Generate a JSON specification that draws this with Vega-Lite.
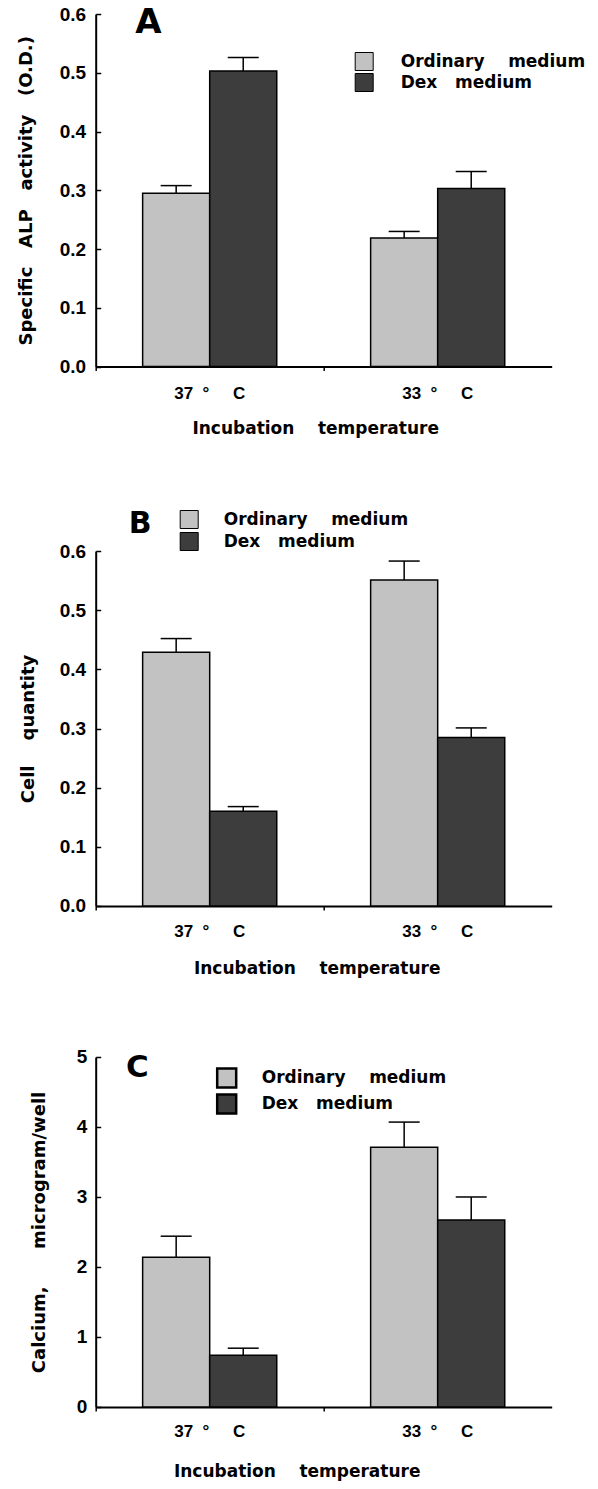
{
  "$schema": "https://vega.github.io/schema/vega-lite/v6.json",
  "background": "white",
  "padding": {"left": 17.7, "top": 5, "right": 5, "bottom": 5},
  "spacing": 71,
  "config": {
    "view": {"stroke": null},
    "axis": {"grid": false, "domainColor": "black", "tickColor": "black", "labelColor": "black", "titleColor": "black", "domainWidth": 2, "tickWidth": 1.5}
  },
  "datasets": {
    "bars": [
      {"panel": "A", "temp": "37 °C", "medium": "Ordinary medium", "value": 0.295, "err": 0.308},
      {"panel": "A", "temp": "37 °C", "medium": "Dex medium", "value": 0.503, "err": 0.526},
      {"panel": "A", "temp": "33 °C", "medium": "Ordinary medium", "value": 0.219, "err": 0.230},
      {"panel": "A", "temp": "33 °C", "medium": "Dex medium", "value": 0.303, "err": 0.332},
      {"panel": "B", "temp": "37 °C", "medium": "Ordinary medium", "value": 0.429, "err": 0.452},
      {"panel": "B", "temp": "37 °C", "medium": "Dex medium", "value": 0.160, "err": 0.168},
      {"panel": "B", "temp": "33 °C", "medium": "Ordinary medium", "value": 0.551, "err": 0.583},
      {"panel": "B", "temp": "33 °C", "medium": "Dex medium", "value": 0.285, "err": 0.301},
      {"panel": "C", "temp": "37 °C", "medium": "Ordinary medium", "value": 2.14, "err": 2.44},
      {"panel": "C", "temp": "37 °C", "medium": "Dex medium", "value": 0.74, "err": 0.84},
      {"panel": "C", "temp": "33 °C", "medium": "Ordinary medium", "value": 3.71, "err": 4.07},
      {"panel": "C", "temp": "33 °C", "medium": "Dex medium", "value": 2.67, "err": 3.00}
    ],
    "letters": [
      {"panel": "A", "letter": "A"},
      {"panel": "B", "letter": "B"},
      {"panel": "C", "letter": "C"}
    ]
  },
  "resolve": {"scale": {"color": "independent", "x": "independent", "y": "independent"}, "legend": {"color": "independent"}},
  "vconcat": [
    {
      "width": 456,
      "height": 352.6,
      "layer": [
        {
          "data": {"name": "bars"},
          "transform": [{"filter": "datum.panel == 'A'"}],
          "mark": {"type": "bar", "stroke": "black", "strokeWidth": 1.5},
          "encoding": {
            "x": {"field": "temp", "type": "nominal", "sort": ["37 °C", "33 °C"], "scale": {"paddingInner": 0, "paddingOuter": 0},
              "axis": {"title": "Incubation\u00a0\u00a0\u00a0\u00a0temperature", "titleFont": "DejaVu Sans", "titleFontSize": 17, "titleFontWeight": "bold", "titlePadding": 19, "titleX": 219.5, "labelFont": "Liberation Sans", "labelFontSize": 17, "labelFontWeight": "bold", "labelAngle": 0, "labelPadding": 15, "tickSize": 4, "bandPosition": 0, "labelExpr": "replace(datum.label, ' °C', '\u00a0\u00a0°\u00a0\u00a0\u00a0\u00a0\u00a0C')"}},
            "xOffset": {"field": "medium", "type": "nominal", "sort": ["Ordinary medium", "Dex medium"], "scale": {"paddingInner": 0, "paddingOuter": 0.7}},
            "y": {"field": "value", "type": "quantitative", "scale": {"domain": [0, 0.6], "nice": false},
              "axis": {"title": "Specific\u00a0\u00a0\u00a0ALP\u00a0\u00a0\u00a0activity\u00a0\u00a0\u00a0(O.D.)", "titleFont": "DejaVu Sans", "titleFontSize": 18, "titleFontWeight": "bold", "titlePadding": 23.3, "labelFont": "Liberation Sans", "labelFontSize": 19, "labelFontWeight": "bold", "labelPadding": 15, "tickSize": -5, "minExtent": 0, "labelOverlap": false, "values": [0, 0.05, 0.1, 0.15, 0.2, 0.25, 0.3, 0.35, 0.4, 0.45, 0.5, 0.55, 0.6], "labelExpr": "round(datum.value * 100) % 10 == 0 ? format(datum.value, '.1f') : ''"}},
            "color": {"field": "medium", "type": "nominal", "scale": {"domain": ["Ordinary medium", "Dex medium"], "range": ["#c2c2c2", "#3d3d3d"]},
              "legend": {"orient": "none", "legendX": 259, "legendY": 38, "title": null, "symbolType": "square", "symbolSize": 324, "symbolStrokeColor": "black", "symbolStrokeWidth": 1, "labelFont": "DejaVu Sans", "labelFontSize": 17, "labelFontWeight": "bold", "labelColor": "black", "labelOffset": 27, "labelLimit": 400, "rowPadding": -3, "padding": 0, "labelExpr": "datum.label == 'Ordinary medium' ? 'Ordinary\u00a0\u00a0\u00a0\u00a0medium' : 'Dex\u00a0\u00a0\u00a0medium'"}}
          }
        },
        {
          "data": {"name": "bars"},
          "transform": [{"filter": "datum.panel == 'A'"}],
          "mark": {"type": "rule", "stroke": "black", "strokeWidth": 1.5},
          "encoding": {
            "x": {"field": "temp", "type": "nominal", "sort": ["37 °C", "33 °C"]},
            "xOffset": {"field": "medium", "type": "nominal", "sort": ["Ordinary medium", "Dex medium"]},
            "y": {"field": "value", "type": "quantitative"},
            "y2": {"field": "err"}
          }
        },
        {
          "data": {"name": "bars"},
          "transform": [{"filter": "datum.panel == 'A'"}],
          "mark": {"type": "tick", "orient": "horizontal", "size": 31, "thickness": 1.5, "color": "black", "opacity": 1},
          "encoding": {
            "x": {"field": "temp", "type": "nominal", "sort": ["37 °C", "33 °C"]},
            "xOffset": {"field": "medium", "type": "nominal", "sort": ["Ordinary medium", "Dex medium"]},
            "y": {"field": "err", "type": "quantitative"}
          }
        },
        {
          "data": {"name": "letters"},
          "transform": [{"filter": "datum.panel == 'A'"}],
          "mark": {"type": "text", "font": "DejaVu Sans", "fontSize": 34, "fontWeight": "bold", "color": "black", "align": "center", "baseline": "alphabetic"},
          "encoding": {
            "x": {"datum": "37 °C", "type": "nominal", "bandPosition": 0.2316},
            "y": {"datum": 0.567, "type": "quantitative"},
            "text": {"field": "letter"}
          }
        }
      ]
    },
    {
      "width": 456,
      "height": 355,
      "layer": [
        {
          "data": {"name": "bars"},
          "transform": [{"filter": "datum.panel == 'B'"}],
          "mark": {"type": "bar", "stroke": "black", "strokeWidth": 1.5},
          "encoding": {
            "x": {"field": "temp", "type": "nominal", "sort": ["37 °C", "33 °C"], "scale": {"paddingInner": 0, "paddingOuter": 0},
              "axis": {"title": "Incubation\u00a0\u00a0\u00a0\u00a0temperature", "titleFont": "DejaVu Sans", "titleFontSize": 17, "titleFontWeight": "bold", "titlePadding": 21, "titleX": 221, "labelFont": "Liberation Sans", "labelFontSize": 17, "labelFontWeight": "bold", "labelAngle": 0, "labelPadding": 14, "tickSize": 4, "bandPosition": 0, "labelExpr": "replace(datum.label, ' °C', '\u00a0\u00a0°\u00a0\u00a0\u00a0\u00a0\u00a0C')"}},
            "xOffset": {"field": "medium", "type": "nominal", "sort": ["Ordinary medium", "Dex medium"], "scale": {"paddingInner": 0, "paddingOuter": 0.7}},
            "y": {"field": "value", "type": "quantitative", "scale": {"domain": [0, 0.6], "nice": false},
              "axis": {"title": "Cell\u00a0\u00a0\u00a0\u00a0quantity", "titleFont": "DejaVu Sans", "titleFontSize": 18, "titleFontWeight": "bold", "titlePadding": 21.4, "labelFont": "Liberation Sans", "labelFontSize": 19, "labelFontWeight": "bold", "labelPadding": 15, "tickSize": -5, "minExtent": 0, "labelOverlap": false, "values": [0, 0.05, 0.1, 0.15, 0.2, 0.25, 0.3, 0.35, 0.4, 0.45, 0.5, 0.55, 0.6], "labelExpr": "round(datum.value * 100) % 10 == 0 ? format(datum.value, '.1f') : ''"}},
            "color": {"field": "medium", "type": "nominal", "scale": {"domain": ["Ordinary medium", "Dex medium"], "range": ["#c2c2c2", "#3d3d3d"]},
              "legend": {"orient": "none", "legendX": 84, "legendY": -41, "title": null, "symbolType": "square", "symbolSize": 324, "symbolStrokeColor": "black", "symbolStrokeWidth": 1, "labelFont": "DejaVu Sans", "labelFontSize": 17, "labelFontWeight": "bold", "labelColor": "black", "labelOffset": 25, "labelLimit": 400, "rowPadding": -1, "padding": 0, "labelExpr": "datum.label == 'Ordinary medium' ? 'Ordinary\u00a0\u00a0\u00a0\u00a0medium' : 'Dex\u00a0\u00a0\u00a0medium'"}}
          }
        },
        {
          "data": {"name": "bars"},
          "transform": [{"filter": "datum.panel == 'B'"}],
          "mark": {"type": "rule", "stroke": "black", "strokeWidth": 1.5},
          "encoding": {
            "x": {"field": "temp", "type": "nominal", "sort": ["37 °C", "33 °C"]},
            "xOffset": {"field": "medium", "type": "nominal", "sort": ["Ordinary medium", "Dex medium"]},
            "y": {"field": "value", "type": "quantitative"},
            "y2": {"field": "err"}
          }
        },
        {
          "data": {"name": "bars"},
          "transform": [{"filter": "datum.panel == 'B'"}],
          "mark": {"type": "tick", "orient": "horizontal", "size": 31, "thickness": 1.5, "color": "black", "opacity": 1},
          "encoding": {
            "x": {"field": "temp", "type": "nominal", "sort": ["37 °C", "33 °C"]},
            "xOffset": {"field": "medium", "type": "nominal", "sort": ["Ordinary medium", "Dex medium"]},
            "y": {"field": "err", "type": "quantitative"}
          }
        },
        {
          "data": {"name": "letters"},
          "transform": [{"filter": "datum.panel == 'B'"}],
          "mark": {"type": "text", "font": "DejaVu Sans", "fontSize": 30, "fontWeight": "bold", "color": "black", "align": "center", "baseline": "alphabetic"},
          "encoding": {
            "x": {"datum": "37 °C", "type": "nominal", "bandPosition": 0.195},
            "y": {"datum": 0.631, "type": "quantitative"},
            "text": {"field": "letter"}
          }
        }
      ]
    },
    {
      "width": 456,
      "height": 350,
      "layer": [
        {
          "data": {"name": "bars"},
          "transform": [{"filter": "datum.panel == 'C'"}],
          "mark": {"type": "bar", "stroke": "black", "strokeWidth": 1.5},
          "encoding": {
            "x": {"field": "temp", "type": "nominal", "sort": ["37 °C", "33 °C"], "scale": {"paddingInner": 0, "paddingOuter": 0},
              "axis": {"title": "Incubation\u00a0\u00a0\u00a0\u00a0temperature", "titleFont": "DejaVu Sans", "titleFontSize": 17, "titleFontWeight": "bold", "titlePadding": 24, "titleX": 201, "labelFont": "Liberation Sans", "labelFontSize": 17, "labelFontWeight": "bold", "labelAngle": 0, "labelPadding": 13, "tickSize": 4, "bandPosition": 0, "labelExpr": "replace(datum.label, ' °C', '\u00a0\u00a0°\u00a0\u00a0\u00a0\u00a0\u00a0C')"}},
            "xOffset": {"field": "medium", "type": "nominal", "sort": ["Ordinary medium", "Dex medium"], "scale": {"paddingInner": 0, "paddingOuter": 0.7}},
            "y": {"field": "value", "type": "quantitative", "scale": {"domain": [0, 5], "nice": false},
              "axis": {"title": "Calcium,\u00a0\u00a0\u00a0\u00a0\u00a0\u00a0microgram/well", "titleFont": "DejaVu Sans", "titleFontSize": 18, "titleFontWeight": "bold", "titlePadding": 28, "labelFont": "Liberation Sans", "labelFontSize": 19, "labelFontWeight": "bold", "labelPadding": 14, "tickSize": -5, "minExtent": 0, "labelOverlap": false, "values": [0, 0.5, 1, 1.5, 2, 2.5, 3, 3.5, 4, 4.5, 5], "labelExpr": "datum.value % 1 == 0 ? format(datum.value, 'd') : ''"}},
            "color": {"field": "medium", "type": "nominal", "scale": {"domain": ["Ordinary medium", "Dex medium"], "range": ["#c2c2c2", "#3d3d3d"]},
              "legend": {"orient": "none", "legendX": 120, "legendY": 10, "title": null, "symbolType": "square", "symbolSize": 361, "symbolStrokeColor": "black", "symbolStrokeWidth": 2.5, "labelFont": "DejaVu Sans", "labelFontSize": 17, "labelFontWeight": "bold", "labelColor": "black", "labelOffset": 24, "labelLimit": 400, "rowPadding": -5, "padding": 0, "labelExpr": "datum.label == 'Ordinary medium' ? 'Ordinary\u00a0\u00a0\u00a0\u00a0medium' : 'Dex\u00a0\u00a0\u00a0medium'"}}
          }
        },
        {
          "data": {"name": "bars"},
          "transform": [{"filter": "datum.panel == 'C'"}],
          "mark": {"type": "rule", "stroke": "black", "strokeWidth": 1.5},
          "encoding": {
            "x": {"field": "temp", "type": "nominal", "sort": ["37 °C", "33 °C"]},
            "xOffset": {"field": "medium", "type": "nominal", "sort": ["Ordinary medium", "Dex medium"]},
            "y": {"field": "value", "type": "quantitative"},
            "y2": {"field": "err"}
          }
        },
        {
          "data": {"name": "bars"},
          "transform": [{"filter": "datum.panel == 'C'"}],
          "mark": {"type": "tick", "orient": "horizontal", "size": 31, "thickness": 1.5, "color": "black", "opacity": 1},
          "encoding": {
            "x": {"field": "temp", "type": "nominal", "sort": ["37 °C", "33 °C"]},
            "xOffset": {"field": "medium", "type": "nominal", "sort": ["Ordinary medium", "Dex medium"]},
            "y": {"field": "err", "type": "quantitative"}
          }
        },
        {
          "data": {"name": "letters"},
          "transform": [{"filter": "datum.panel == 'C'"}],
          "mark": {"type": "text", "font": "DejaVu Sans", "fontSize": 31, "fontWeight": "bold", "color": "black", "align": "center", "baseline": "alphabetic"},
          "encoding": {
            "x": {"datum": "37 °C", "type": "nominal", "bandPosition": 0.183},
            "y": {"datum": 4.71, "type": "quantitative"},
            "text": {"field": "letter"}
          }
        }
      ]
    }
  ]
}
